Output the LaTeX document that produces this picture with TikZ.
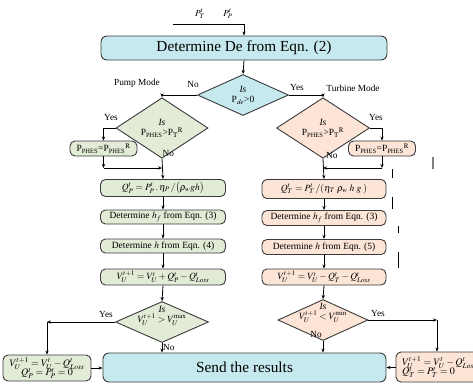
\documentclass[tikz,border=0pt]{standalone}
\usepackage{amsmath}
\usepackage{mathptmx}
\usepackage{fontspec}
\setmainfont{Liberation Serif}
\usetikzlibrary{shapes.geometric,arrows.meta}
\definecolor{bluefill}{HTML}{C6E9EF}
\definecolor{greenfill}{HTML}{E2EBD6}
\definecolor{peachfill}{HTML}{FCE4D6}
\definecolor{edge}{HTML}{3A3A3A}
\newcommand{\fs}[1]{\fontsize{#1}{#1}\selectfont}
\newcommand{\phes}{\mbox{\fs{6.5}PHES}}
\tikzset{
  base/.style={draw=edge, line width=0.9pt, inner sep=0pt, align=center},
  bigbox/.style={base, rounded corners=6pt, fill=bluefill, font=\fs{15.3}},
  gbox/.style={base, rounded corners=5pt, fill=greenfill, font=\fs{9.5},
    minimum width=125pt, minimum height=15pt},
  pbox/.style={base, rounded corners=5pt, fill=peachfill, font=\fs{9.5},
    minimum width=124pt, minimum height=15pt},
  decision/.style={base, diamond, font=\fs{9.5}},
  dtext/.style={font=\fs{9.5}, inner sep=0pt, align=center},
  lbl/.style={font=\fs{9.3}, inner sep=0pt},
  arr/.style={-{Stealth[length=4pt,width=3.2pt]}, line width=0.8pt, black},
  ln/.style={line width=0.8pt, black},
  bar/.style={line width=0.8pt, black}
}
\begin{document}
\begin{tikzpicture}[x=1pt,y=-1pt]
\useasboundingbox (0,0) rectangle (473,383);
\clip (0,0) rectangle (473,383);

% inputs and the first process
\coordinate (in) at (173,24);
\node[lbl] (pt) at (200,14) {$P_T^t$};
\node[lbl] (pp) at (228,14) {$P_P^t$};
\node[bigbox, minimum width=286pt, minimum height=24pt] (top) at (244,48)
  {Determine De from Eqn. (2)};

% mode decision
\node[decision, fill=bluefill, minimum width=91pt, minimum height=41pt] (d0) at (243,95)
  {\textit{Is}\\[1pt] P$_{\mathit{de}}$>0};
\node[lbl] (pump) at (137,83) {Pump Mode};
\node[lbl] (turb) at (353,88) {Turbine Mode};

% pump branch
\node[decision, fill=greenfill, minimum width=92pt, minimum height=42pt] (dl) at (162,128)
  {\textit{Is}\\[1pt] P$_{\phes}$>P$_{\mathrm{T}}{}^{\mathrm{R}}$};
\node[base, rounded corners=5pt, fill=greenfill, font=\fs{9.5},
  minimum width=67pt, minimum height=15pt] (pl) at (103.5,148.5)
  {P$_{\phes}$=P$_{\phes}{}^{\mathrm{R}}$};
\node[gbox, minimum height=17pt] (ql) at (163,188)
  {$Q_P^t = P_P^t\,.\,\eta_P\,/\bigl(\rho_w g h\bigr)$};
\node[gbox, minimum height=14pt] (hfl) at (163,217) {Determine $h_f$ from Eqn. (3)};
\node[gbox, minimum height=14pt] (hl) at (163,246) {Determine $h$ from Eqn. (4)};
\node[gbox, minimum height=16pt] (vl) at (163,277)
  {$V_U^{t+1} = V_U^t + Q_P^t - Q_{\mathit{Loss}}^t$};
\node[decision, fill=greenfill, minimum width=93pt, minimum height=41pt] (dl2) at (162,322) {};
\node[dtext] (dl2t) at ([yshift=6pt]dl2.center)
  {\textit{Is}\\[0pt] $V_U^{t+1} > V_U^{\max}$};
\node[base, rounded corners=5pt, fill=greenfill, font=\fs{10},
  minimum width=88pt, minimum height=26pt] (bl) at (47,368)
  {$V_U^{t+1} = V_U^t - Q_{\mathit{Loss}}^t$\\[-2pt] $Q_P^t = P_P^t = 0$};

% turbine branch
\node[decision, fill=peachfill, minimum width=93pt, minimum height=42pt] (dr) at (323,128)
  {\textit{Is}\\[1pt] P$_{\phes}$>P$_{\mathrm{T}}{}^{\mathrm{R}}$};
\node[base, rounded corners=5pt, fill=peachfill, font=\fs{9.5},
  minimum width=67pt, minimum height=15pt] (pr) at (382,148.5)
  {P$_{\phes}$=P$_{\phes}{}^{\mathrm{R}}$};
\node[pbox, minimum height=19pt] (qr) at (324,189)
  {$Q_T^t = P_T^t\,/(\eta_T\;\rho_w\;h\;g\;)$};
\node[pbox, minimum height=15pt] (hfr) at (324,218) {Determine $h_f$ from Eqn. (3)};
\node[pbox, minimum height=15pt] (hr) at (324,247) {Determine $h$ from Eqn. (5)};
\node[pbox, minimum height=16pt] (vr) at (324,277)
  {$V_U^{t+1} = V_U^t - Q_T^t - Q_{\mathit{Loss}}^t$};
\node[decision, fill=peachfill, minimum width=90pt, minimum height=41pt] (dr2) at (323,320) {};
\node[dtext] (dr2t) at ([yshift=7pt]dr2.center)
  {\textit{Is}\\[0pt] $V_U^{t+1} < V_U^{\min}$};
\node[base, rounded corners=5pt, fill=peachfill, font=\fs{10}, align=left,
  minimum width=84pt, minimum height=30pt] (br) at (438,367)
  {\hspace*{3pt}$V_U^{t+1} = V_U^t - Q_{\mathit{Loss}}^t$\\[-2pt]\hspace*{3pt}$Q_T^t = P_T^t = 0$};

% output
\node[bigbox, minimum width=283pt, minimum height=29pt] (send) at (244.5,367.5)
  {Send the results};

% connectors
\draw[ln] (in) -- (in -| top.north);
\draw[arr] (in -| top.north) -- (top.north);
\draw[arr] (top.south) -- (d0.north);
\draw[arr] (d0.west) -| (dl.north);
\node[lbl] (no0) at (193,84) {No};
\draw[arr] (d0.east) -| (dr.north);
\node[lbl] (yes0) at (297,87) {Yes};

\draw[arr] (dl.west) -| (pl.north);
\node[lbl] (yesl) at (111,117) {Yes};
\coordinate (jl) at (162,168);
\draw[arr] (dl.south) -- (ql.north);
\node[lbl, anchor=west] (nol) at (162.5,153) {No};
\draw[arr] (pl.south) -- (pl.south |- jl);
\draw[arr] (pl.south |- jl) -- (jl);
\draw[arr] (ql.south) -- (hfl.north);
\draw[arr] (hfl.south) -- (hl.north);
\draw[arr] (hl.south) -- (vl.north);
\draw[arr] (vl.south) -- (dl2.north);
\draw[arr] (dl2.west) -- (dl2.west -| bl.north);
\draw[arr] (dl2.west -| bl.north) -- (bl.north);
\node[lbl] (yesl2) at (106,314) {Yes};
\draw[arr] (dl2.south) -- (send.north -| dl2.south);
\node[lbl, anchor=west] (nol2) at (163,347) {No};
\draw[arr] (bl.east) -- (send.west |- bl.east);

\draw[arr] (dr.east) -| (pr.north);
\node[lbl] (yesr) at (376,117) {Yes};
\coordinate (jr) at (323,168);
\draw[arr] (dr.south) -- (qr.north);
\node[lbl, anchor=west] (nor) at (326,155) {No};
\draw[arr] (pr.south) -- (pr.south |- jr);
\draw[arr] (pr.south |- jr) -- (jr);
\draw[arr] (qr.south) -- (hfr.north);
\draw[arr] (hfr.south) -- (hr.north);
\draw[arr] (hr.south) -- (vr.north);
\draw[arr] (vr.south) -- (dr2.north);
\coordinate (cr) at (437,320);
\draw[arr] (dr2.east) -- (cr);
\draw[arr] (cr) -- (cr |- br.north);
\node[lbl] (yesr2) at (378,313) {Yes};
\draw[arr] (dr2.south) -- (send.north -| dr2.south);
\node[lbl, anchor=east] (nor2) at (322,334) {No};
\draw[arr] (br.west |- send.east) -- (send.east);

% stray marks at the right margin
\draw[bar, gray, line width=1.2pt] (433,157) -- (433,169);
\draw[bar] (392,169) -- (392,178);
\draw[bar] (392,197) -- (392,209);
\draw[bar] (398,226) -- (398,233);
\draw[bar] (398,252) -- (398,268);
\end{tikzpicture}
\end{document}
